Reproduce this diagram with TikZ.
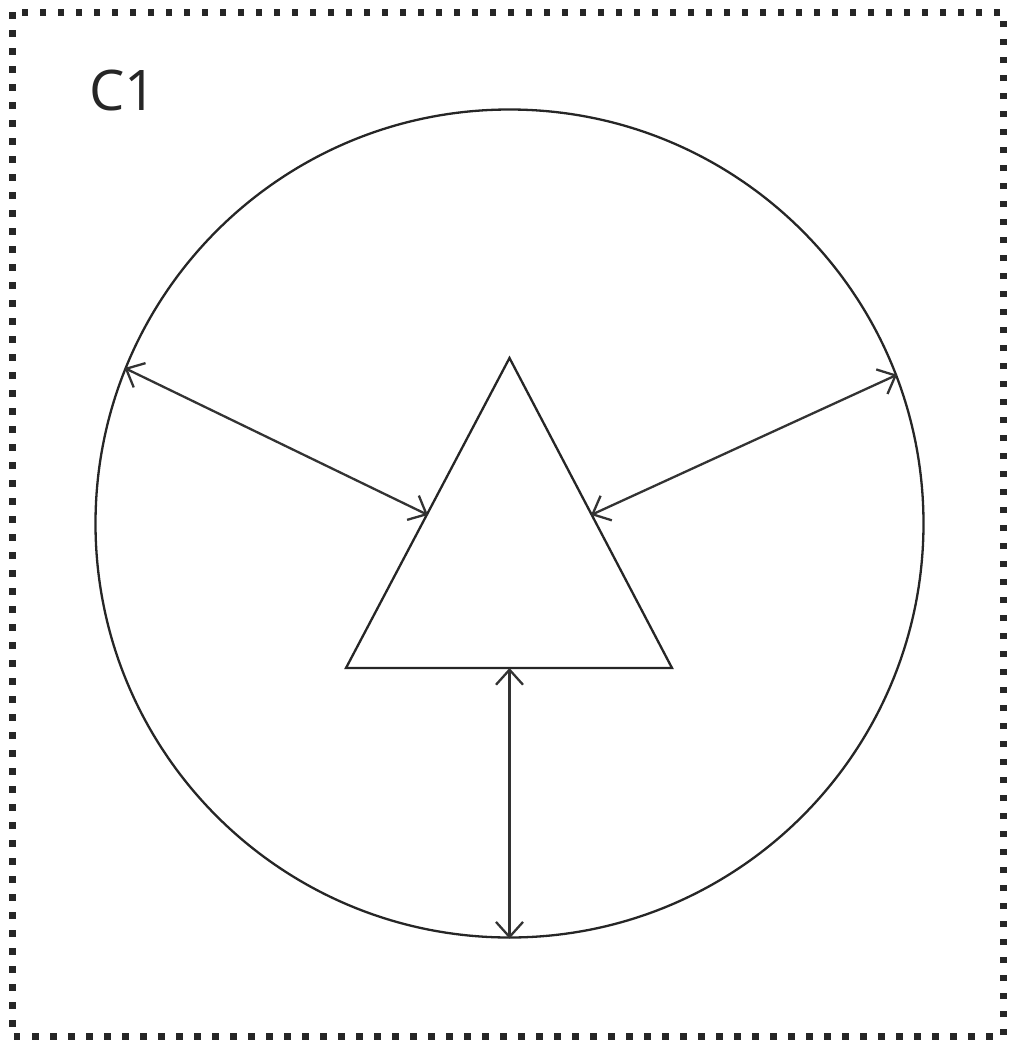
\documentclass[tikz,border=0pt]{standalone}
\usepackage{fontspec}
\setmainfont{Open Sans}
\usetikzlibrary{arrows.meta}
\tikzset{
  frame/.style={line width=7pt, dash pattern=on 6.5pt off 11.5pt, draw=black!85},
  outline/.style={draw=black!85, line width=2.3pt},
  link/.style={draw=black!80, line width=2.3pt, {Straight Barb[length=15pt,width=27pt]}-{Straight Barb[length=15pt,width=27pt]}},
  lbl/.style={font=\fontsize{56}{60}\selectfont, text=black!85, inner sep=0pt}
}
\begin{document}
\begin{tikzpicture}[x=1pt,y=-1pt]
\useasboundingbox (0,0) rectangle (1011,1045);
\draw[frame] (12,12) rectangle (1003,1036);
\node[lbl] (c1) at (123,90) {C1};
\node[outline, circle, minimum size=828pt, inner sep=0pt] (circ) at (509.5,523.5) {};
\coordinate (apex) at (509.5,358);
\coordinate (bl) at (346,668);
\coordinate (br) at (672,668);
\draw[outline, line join=miter] (apex) -- (bl) -- (br) -- cycle;
\coordinate (lmid) at (428,515);
\coordinate (rmid) at (591,515);
\coordinate (bmid) at (509.5,668);
\draw[link] (circ.158.4) -- (lmid);
\draw[link] (circ.21.6) -- (rmid);
\draw[link] (circ.south) -- (bmid);
\end{tikzpicture}
\end{document}
